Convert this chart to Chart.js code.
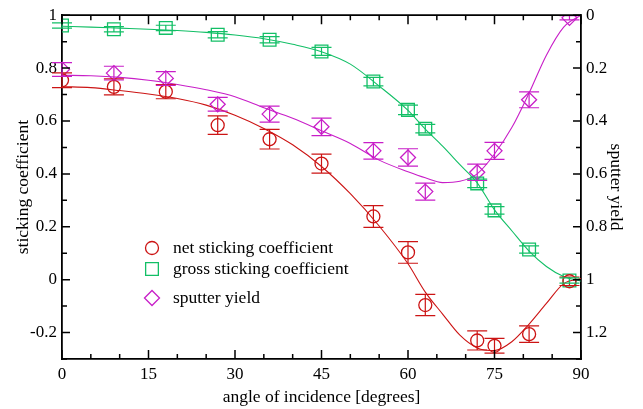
<!DOCTYPE html>
<html>
<head>
<meta charset="utf-8">
<script src="https://cdn.jsdelivr.net/npm/chart.js@4"></script>
<style>
    body { margin: 0; background: #fff; }
    #wrap { width: 643px; height: 409px; }
</style>
</head>
<body>
<div id="wrap"><canvas id="chart" width="643" height="409"></canvas></div>
<script>
// measured points
var angles = [0, 9, 18, 27, 36, 45, 54, 60, 63, 72, 75, 81, 88];
var netSticking = [0.754, 0.729, 0.711, 0.584, 0.531, 0.439, 0.239, 0.103, -0.096, -0.230, -0.250, -0.206, -0.006];
var netErr = [0.028, 0.030, 0.027, 0.035, 0.037, 0.036, 0.041, 0.041, 0.040, 0.036, 0.028, 0.031, 0.016];
var grossSticking = [0.961, 0.947, 0.952, 0.926, 0.907, 0.863, 0.749, 0.642, 0.571, 0.364, 0.262, 0.114, -0.003];
var grossErr = [0.010, 0.010, 0.010, 0.012, 0.012, 0.015, 0.016, 0.018, 0.016, 0.016, 0.014, 0.014, 0.010];
var sputterYield = [0.205, 0.219, 0.239, 0.337, 0.374, 0.422, 0.513, 0.538, 0.667, 0.594, 0.513, 0.320, 0.010];
var yieldErr = [0.026, 0.026, 0.026, 0.026, 0.030, 0.033, 0.031, 0.033, 0.032, 0.031, 0.032, 0.030, 0.008];

// fitted curves
var fitAngles = [0, 5, 10, 15, 20, 25, 30, 35, 40, 45, 50, 55, 60, 63, 66, 69, 72, 75, 78, 81, 84, 87, 90];
var netFit = [0.730, 0.726, 0.715, 0.702, 0.685, 0.660, 0.622, 0.572, 0.510, 0.428, 0.325, 0.203, 0.060, -0.047, -0.130, -0.210, -0.258, -0.268, -0.235, -0.168, -0.090, -0.015, 0.004];
var grossFit = [0.958, 0.955, 0.951, 0.947, 0.942, 0.935, 0.925, 0.911, 0.890, 0.862, 0.815, 0.732, 0.640, 0.569, 0.505, 0.435, 0.366, 0.264, 0.185, 0.108, 0.050, 0.012, -0.005];
var yieldFit = [0.227, 0.229, 0.235, 0.246, 0.262, 0.282, 0.308, 0.350, 0.390, 0.437, 0.485, 0.548, 0.592, 0.615, 0.633, 0.628, 0.600, 0.525, 0.425, 0.294, 0.151, 0.045, 0.000];

// axis ticks
var xTicks = [0, 15, 30, 45, 60, 75, 90];
var yTicks = [-0.2, 0, 0.2, 0.4, 0.6, 0.8, 1];
var y2Ticks = [0, 0.2, 0.4, 0.6, 0.8, 1, 1.2];

var labels = ["net sticking coefficient", "gross sticking coefficient", "sputter yield"];

var RED = '#cc1414';
var GREEN = '#12bf66';
var MAGENTA = '#c81ec8';
var SERIF = '"Liberation Serif", "DejaVu Serif", serif';

function pairs(xs, ys) {
    return xs.map(function (x, i) { return {x: x, y: ys[i]}; });
}

function fmt(v) {
    return String(Math.round(v * 10) / 10);
}

// error bars
var errorBars = {
    id: 'errorBars',
    afterDatasetsDraw: function (chart) {
        var ctx = chart.ctx;
        chart.data.datasets.forEach(function (ds, i) {
            if (!ds.errors) return;
            var meta = chart.getDatasetMeta(i);
            var ys = chart.scales[ds.yAxisID];
            ctx.save();
            ctx.strokeStyle = ds.borderColor;
            ctx.lineWidth = 1.2;
            meta.data.forEach(function (pt, j) {
                var v = ds.data[j].y, e = ds.errors[j];
                var top = ys.getPixelForValue(v + e);
                var bot = ys.getPixelForValue(v - e);
                ctx.beginPath();
                ctx.moveTo(pt.x, top); ctx.lineTo(pt.x, bot);
                ctx.moveTo(pt.x - 10, top); ctx.lineTo(pt.x + 10, top);
                ctx.moveTo(pt.x - 10, bot); ctx.lineTo(pt.x + 10, bot);
                ctx.stroke();
            });
            ctx.restore();
        });
    }
};

// inward ticks on all four sides, plus top border and legend
var frame = {
    id: 'frame',
    afterDraw: function (chart) {
        var ctx = chart.ctx, a = chart.chartArea;
        var x = chart.scales.x, y = chart.scales.y, y2 = chart.scales.y2;
        ctx.save();
        ctx.strokeStyle = '#000';
        ctx.lineWidth = 1.8;
        ctx.beginPath();
        ctx.moveTo(a.left, a.top); ctx.lineTo(a.right, a.top);
        ctx.stroke();
        ctx.lineWidth = 1.5;
        ctx.beginPath();
        var v, p, len;
        for (v = 0; v <= 90; v += 5) {
            p = x.getPixelForValue(v);
            len = v % 15 === 0 ? 9 : 5;
            ctx.moveTo(p, a.bottom); ctx.lineTo(p, a.bottom - len);
            ctx.moveTo(p, a.top); ctx.lineTo(p, a.top + len);
        }
        for (v = -3; v <= 10; v++) {
            p = y.getPixelForValue(v / 10);
            len = v % 2 === 0 ? 8 : 5;
            ctx.moveTo(a.left, p); ctx.lineTo(a.left + len, p);
        }
        for (v = 0; v <= 13; v++) {
            p = y2.getPixelForValue(v / 10);
            len = v % 2 === 0 ? 8 : 5;
            ctx.moveTo(a.right, p); ctx.lineTo(a.right - len, p);
        }
        ctx.stroke();

        // legend
        var rows = [
            {style: 'circle', color: RED, r: 6.5, y: 248},
            {style: 'rect', color: GREEN, r: 9, y: 269},
            {style: 'rectRot', color: MAGENTA, r: 7.5, y: 298}
        ];
        ctx.font = '17.5px ' + SERIF;
        ctx.textBaseline = 'middle';
        rows.forEach(function (row, i) {
            ctx.strokeStyle = row.color;
            ctx.fillStyle = 'rgba(0,0,0,0)';
            ctx.lineWidth = 1.3;
            Chart.helpers.drawPoint(ctx, {pointStyle: row.style, radius: row.r, borderWidth: 1.3}, 152, row.y);
            ctx.fillStyle = '#000';
            ctx.fillText(labels[i], 173, row.y);
        });
        ctx.restore();
    }
};

var fitLine = function (data, color, axis) {
    return {
        data: data,
        yAxisID: axis,
        borderColor: color,
        borderWidth: 1.1,
        pointRadius: 0,
        fill: false,
        cubicInterpolationMode: 'monotone'
    };
};

var marks = function (data, errs, color, axis, style, r) {
    return {
        data: data,
        errors: errs,
        yAxisID: axis,
        showLine: false,
        borderColor: color,
        backgroundColor: 'transparent',
        pointStyle: style,
        pointRadius: r,
        pointBorderWidth: 1.3,
        pointBorderColor: color,
        pointBackgroundColor: 'transparent'
    };
};

var ctx = document.getElementById('chart').getContext('2d');
var myChart = new Chart(ctx, {
    type: 'line',
    data: {
        datasets: [
            marks(pairs(angles, netSticking), netErr, RED, 'y', 'circle', 6.5),
            marks(pairs(angles, grossSticking), grossErr, GREEN, 'y', 'rect', 9),
            marks(pairs(angles, sputterYield), yieldErr, MAGENTA, 'y2', 'rectRot', 7.5),
            fitLine(pairs(fitAngles, netFit), RED, 'y'),
            fitLine(pairs(fitAngles, grossFit), GREEN, 'y'),
            fitLine(pairs(fitAngles, yieldFit), MAGENTA, 'y2')
        ]
    },
    options: {
        responsive: false,
        animation: false,
        devicePixelRatio: 1,
        layout: {padding: {top: 14, left: 0, right: 0, bottom: 0}},
        plugins: {legend: {display: false}, tooltip: {enabled: false}},
        scales: {
            x: {
                type: 'linear', min: 0, max: 90,
                afterBuildTicks: function (s) { s.ticks = xTicks.map(function (v) { return {value: v}; }); },
                afterFit: function (s) { s.height = 50; },
                grid: {display: false, drawTicks: false},
                border: {display: true, color: '#000', width: 1.8},
                ticks: {color: '#000', padding: 5, maxRotation: 0, font: {family: SERIF, size: 17}},
                title: {display: true, text: 'angle of incidence [degrees]', color: '#000',
                    font: {family: SERIF, size: 17.5}, padding: {top: 0, bottom: 1}}
            },
            y: {
                position: 'left', min: -0.3, max: 1,
                afterBuildTicks: function (s) { s.ticks = yTicks.map(function (v) { return {value: v}; }); },
                afterFit: function (s) { s.width = 62; },
                grid: {display: false, drawTicks: false},
                border: {display: true, color: '#000', width: 1.8},
                ticks: {color: '#000', padding: 5, font: {family: SERIF, size: 17}, callback: fmt},
                title: {display: true, text: 'sticking coefficient', color: '#000',
                    font: {family: SERIF, size: 17.5}, padding: {top: 13, bottom: 0}}
            },
            y2: {
                position: 'right', min: 0, max: 1.3, reverse: true,
                afterBuildTicks: function (s) { s.ticks = y2Ticks.map(function (v) { return {value: v}; }); },
                afterFit: function (s) { s.width = 62; },
                grid: {display: false, drawTicks: false},
                border: {display: true, color: '#000', width: 1.8},
                ticks: {color: '#000', padding: 5, font: {family: SERIF, size: 17}, callback: fmt},
                title: {display: true, text: 'sputter yield', color: '#000',
                    font: {family: SERIF, size: 17.5}, padding: {top: 17, bottom: 0}}
            }
        }
    },
    plugins: [errorBars, frame]
});
</script>
</body>
</html>
